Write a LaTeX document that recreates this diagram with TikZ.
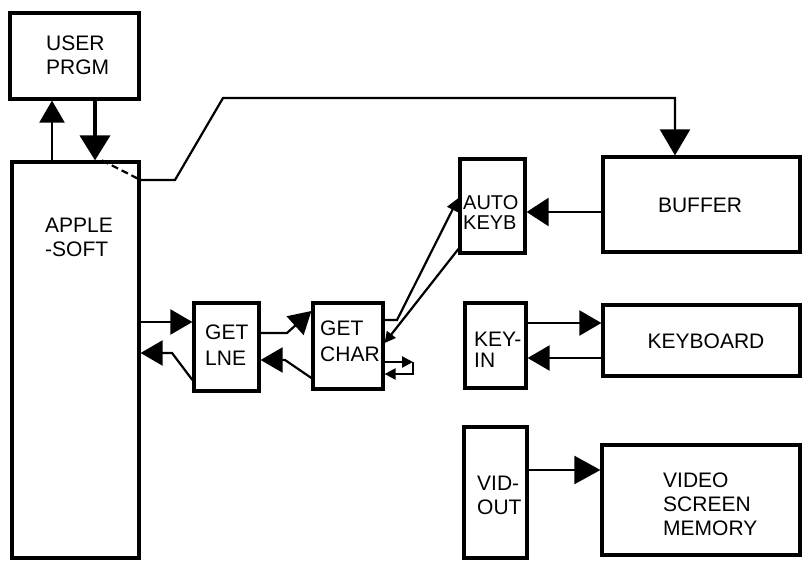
\documentclass[tikz,border=0pt]{standalone}
\usepackage{fontspec}
\setmainfont{Liberation Sans}
\usetikzlibrary{arrows.meta}
\begin{document}
\begin{tikzpicture}[x=1pt,y=-1pt,
  box/.style={draw, line width=3.2pt, rectangle, inner sep=0pt},
  txt/.style={font=\fontsize{21}{24}\selectfont, align=left, inner sep=0pt, anchor=west},
  conn/.style={line width=2.2pt},
  big/.style={-{Triangle[length=22pt,width=25pt]}},
  huge/.style={-{Triangle[length=26pt,width=30pt]}},
  small/.style={-{Triangle[length=11pt,width=11pt]}},
]
\useasboundingbox (0,0) rectangle (803,561);

% boxes
\node[box, minimum width=129pt, minimum height=86pt] (user) at (74.5,56) {};
\node[box, minimum width=127pt, minimum height=396pt] (apple) at (75.5,360) {};
\node[box, minimum width=65pt, minimum height=88pt] (getlne) at (226.5,347) {};
\node[box, minimum width=70pt, minimum height=86pt] (getchar) at (348,346) {};
\node[box, minimum width=65pt, minimum height=94pt] (autokeyb) at (492.5,206) {};
\node[box, minimum width=197pt, minimum height=95pt] (buffer) at (701.5,204.5) {};
\node[box, minimum width=61pt, minimum height=85pt] (keyin) at (495.5,345.5) {};
\node[box, minimum width=197pt, minimum height=71pt] (keyboard) at (701.5,340.5) {};
\node[box, minimum width=63pt, minimum height=131pt] (vidout) at (495.5,492.5) {};
\node[box, minimum width=198pt, minimum height=110pt] (video) at (701,500) {};

% texts
\node[txt] (tuser) at (46,55) {USER\\PRGM};
\node[txt] (tapple) at (45,237) {APPLE\\-SOFT};
\node[txt, font=\fontsize{21}{26}\selectfont] (tgetlne) at (205,345) {GET\\LNE};
\node[txt, font=\fontsize{21}{26}\selectfont] (tgetchar) at (320,341.5) {GET\\CHAR};
\node[txt, font=\fontsize{20}{20}\selectfont] (tautokeyb) at (463,212.5) {AUTO\\KEYB};
\node[txt, anchor=center] (tbuffer) at (700,205) {BUFFER};
\node[txt, font=\fontsize{21}{21}\selectfont] (tkeyin) at (474,350) {KEY-\\IN};
\node[txt, anchor=center] (tkeyboard) at (706,341) {KEYBOARD};
\node[txt] (tvidout) at (477,495) {VID-\\OUT};
\node[txt] (tvideo) at (663,504) {VIDEO\\SCREEN\\MEMORY};

% connectors
\draw[conn, big] (apple.north -| 52,0) -- (user.south -| 52,0);
\draw[line width=3.8pt, -{Triangle[length=25pt,width=30pt]}] (user.south -| 95,0) -- (apple.north -| 95,0);
\draw[conn, dash pattern=on 7pt off 4pt] (apple.north -| 102,0) -- (apple.east |- 0,180);
\draw[conn, huge] (apple.east |- 0,180) -- (175,180) -- (223,98) -- (675,98) -- (buffer.north -| 675,0);

\draw[conn, big] (apple.east |- 0,322) -- (getlne.west |- 0,322);
\draw[conn, big] (getlne.west |- 0,380) -- (172,353) -- (apple.east |- 0,353);

\draw[conn, big] (getlne.east |- 0,333) -- (287,333) -- (getchar.west |- 0,311);
\draw[conn, big] (getchar.west |- 0,378) -- (285,360) -- (getlne.east |- 0,360);

\draw[conn, -{Triangle[length=13pt,width=12pt]}] (getchar.east |- 0,320) -- (397,320) -- (autokeyb.west |- 0,198);
\draw[conn, small] (autokeyb.west |- 0,249) -- (getchar.east |- 0,343);

\coordinate (loopa) at (413,362);
\coordinate (loopb) at (413,374);
\draw[conn, small] (getchar.east |- 0,362) -- (loopa);
\draw[conn, small] (loopa) -- (loopb) -- (getchar.east |- 0,374);

\draw[conn, -{Triangle[length=22pt,width=28pt]}] (buffer.west |- 0,212) -- (autokeyb.east |- 0,212);
\draw[conn, big] (keyin.east |- 0,323) -- (keyboard.west |- 0,323);
\draw[conn, big] (keyboard.west |- 0,358) -- (keyin.east |- 0,358);
\draw[conn, -{Triangle[length=26pt,width=28pt]}] (vidout.east |- 0,470) -- (video.west |- 0,470);
\end{tikzpicture}
\end{document}
